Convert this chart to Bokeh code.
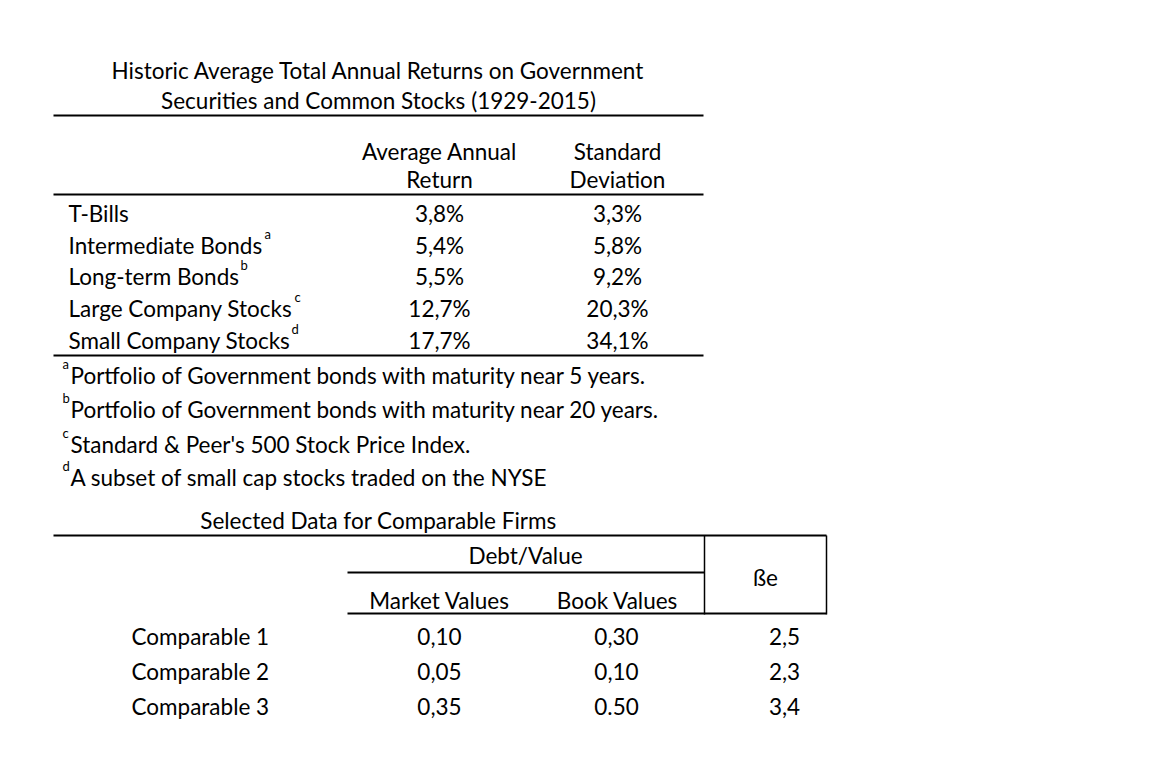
from bokeh.plotting import figure
from bokeh.models import Range1d, ColumnDataSource
from bokeh.core.properties import value
from bokeh.embed import file_html
from bokeh.resources import INLINE

# ---- data ----
title_lines = ["Historic Average Total Annual Returns on Government",
               "Securities and Common Stocks (1929-2015)"]
col_headers = [["Average Annual", "Return"], ["Standard", "Deviation"]]
asset_classes = ["T-Bills", "Intermediate Bonds", "Long-term Bonds",
                 "Large Company Stocks", "Small Company Stocks"]
asset_marks = ["", "a", "b", "c", "d"]
avg_return = [3.8, 5.4, 5.5, 12.7, 17.7]
std_dev = [3.3, 5.8, 9.2, 20.3, 34.1]
footnote_marks = ["a", "b", "c", "d"]
footnotes = ["Portfolio of Government bonds with maturity near 5 years.",
             "Portfolio of Government bonds with maturity near 20 years.",
             "Standard & Peer's 500 Stock Price Index.",
             "A subset of small cap stocks traded on the NYSE"]
table2_title = "Selected Data for Comparable Firms"
table2_group = "Debt/Value"
table2_headers = ["Market Values", "Book Values"]
beta_header = "ße"
comparables = ["Comparable 1", "Comparable 2", "Comparable 3"]
market_dv = ["0,10", "0,05", "0,35"]
book_dv = ["0,30", "0,10", "0.50"]
beta_e = ["2,5", "2,3", "3,4"]


def pct(v):
    return f"{v:.1f}%".replace(".", ",")


FONT = value("Lato")
FS = "22.5px"
SFS = "13px"
TY = -8.5  # baseline correction for svg text

p = figure(width=1146, height=766, output_backend="svg", toolbar_location=None,
           x_range=Range1d(0, 1146), y_range=Range1d(766, 0),
           min_border=0)
p.axis.visible = False
p.grid.visible = False
p.outline_line_color = None
p.background_fill_color = "white"
p.border_fill_color = "white"


def txt(xs, ys, texts, align="left", size=FS):
    src = ColumnDataSource(dict(x=xs, y=[y + TY for y in ys], t=texts))
    p.text(x="x", y="y", text="t", source=src, text_font=FONT,
           text_font_size=size, text_align=align, text_baseline="alphabetic",
           text_color="black")


def rule(xs, ys, w=2):
    p.line(xs, ys, line_color="black", line_width=w)


# ---- table 1 ----
txt([378, 378], [78, 108], title_lines, "center")
rule([53, 703], [115, 115])
txt([439, 439], [159, 187], col_headers[0], "center")
txt([617, 617], [159, 187], col_headers[1], "center")
rule([53, 703], [194, 194])

row_y = [221, 253, 284, 316, 348]
txt([68] * 5, row_y, asset_classes, "left")
sup_x = [0, 264, 240, 294, 291]
txt(sup_x[1:], [y - 11 for y in row_y[1:]], asset_marks[1:], "left", SFS)
txt([439] * 5, row_y, [pct(v) for v in avg_return], "center")
txt([617] * 5, row_y, [pct(v) for v in std_dev], "center")
rule([53, 703], [355, 355])

fn_y = [383, 417, 452, 485]
txt([62] * 4, [y - 11 for y in fn_y], footnote_marks, "left", SFS)
txt([70] * 4, fn_y, footnotes, "left")

# ---- table 2 ----
txt([378], [528], [table2_title], "center")
rule([53, 826], [535, 535])
rule([704, 704], [535, 614], 1.5)
rule([826, 826], [535, 614], 1.5)
rule([347, 704], [572, 572])
rule([347, 826], [613, 613])
txt([525], [563], [table2_group], "center")
txt([765], [585], [beta_header], "center")
txt([439, 617], [608, 608], table2_headers, "center")

comp_y = [644, 679, 714]
txt([131] * 3, comp_y, comparables, "left")
txt([439] * 3, comp_y, market_dv, "center")
txt([616] * 3, comp_y, book_dv, "center")
txt([784] * 3, comp_y, beta_e, "center")

open("out.html", "w").write(file_html(p, INLINE))
